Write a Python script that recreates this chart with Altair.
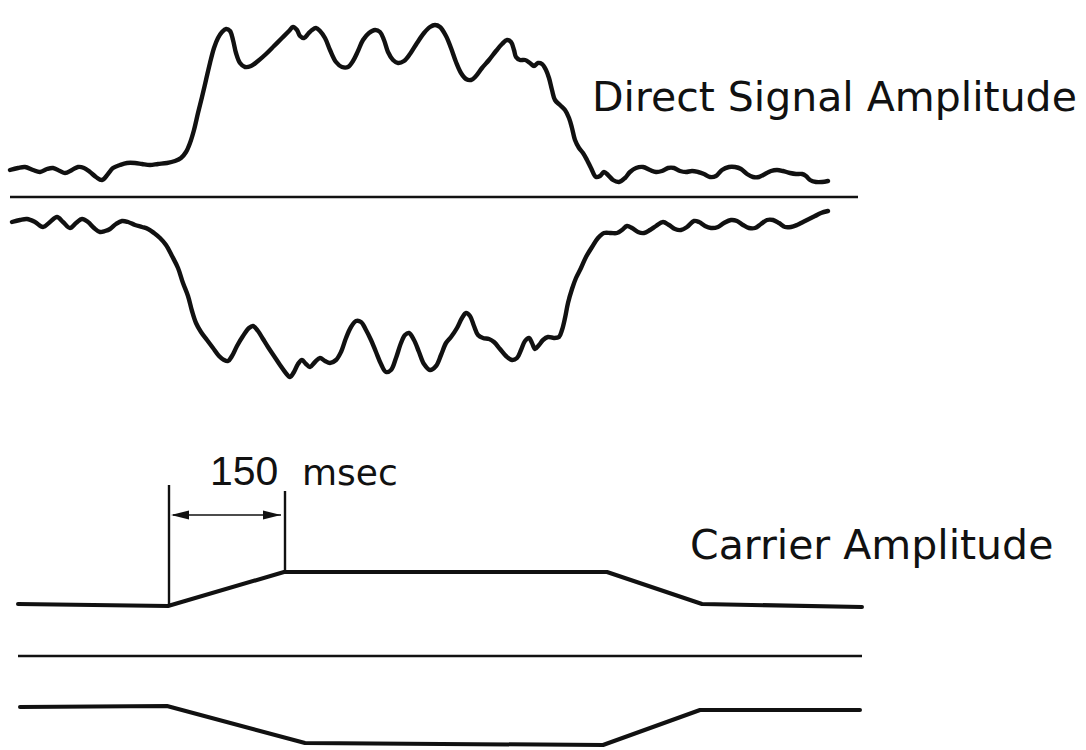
import altair as alt
import pandas as pd

# Drawing units: x is time along the trace, y is vertical position (0 at top).
# Direct signal envelope, upper half
direct_upper_x = [10, 18, 25, 33, 40, 47, 53, 60, 65, 72, 78, 84, 90, 96, 102, 108, 113, 120, 127, 135,
                  142, 150, 158, 167, 175, 181, 186, 190, 194, 198, 202, 206, 210, 214, 218, 222, 226, 230,
                  233, 236, 240, 245, 251, 258, 266, 274, 282, 289, 293, 297, 300, 304, 308, 312, 316, 320,
                  325, 330, 336, 342, 348, 353, 358, 363, 369, 375, 380, 384, 388, 393, 398, 404, 410, 417,
                  424, 430, 435, 440, 446, 451, 456, 461, 466, 471, 476, 482, 489, 496, 502, 507, 511, 514,
                  516, 520, 525, 530, 534, 538, 542, 546, 549, 552, 555, 560, 565, 569, 572, 575, 579, 583,
                  587, 591, 596, 600, 604, 608, 613, 619, 625, 630, 636, 643, 650, 656, 662, 668, 674, 680,
                  686, 692, 698, 704, 710, 716, 722, 729, 735, 741, 747, 753, 759, 765, 771, 777, 783, 790,
                  796, 802, 806, 810, 816, 822, 828]
direct_upper_y = [170, 168, 167, 170, 172, 169, 168, 171, 173, 170, 167, 168, 172, 177, 180, 174, 168, 165, 163, 163,
                  164, 165, 164, 163, 161, 158, 152, 143, 130, 113, 97, 80, 63, 48, 38, 32, 29, 31,
                  40, 53, 63, 67, 66, 61, 54, 46, 38, 31, 27, 30, 36, 38, 34, 30, 28, 31,
                  38, 50, 62, 67, 67, 61, 51, 40, 33, 30, 32, 40, 52, 60, 63, 61, 54, 43,
                  33, 27, 25, 27, 36, 48, 62, 73, 79, 80, 76, 68, 60, 51, 44, 40, 42, 50,
                  57, 60, 60, 63, 66, 63, 64, 70, 78, 90, 100, 105, 110, 118, 128, 140, 148, 153,
                  160, 168, 177, 176, 172, 175, 180, 182, 178, 172, 168, 167, 170, 172, 171, 168, 168, 171,
                  172, 171, 172, 174, 177, 176, 170, 167, 167, 169, 174, 177, 177, 174, 171, 170, 171, 173,
                  174, 174, 176, 180, 182, 182, 181]

# Direct signal envelope, lower half
direct_lower_x = [12, 20, 27, 35, 43, 50, 57, 63, 70, 76, 82, 88, 94, 100, 105, 110, 116, 122, 128, 135,
                  142, 148, 154, 160, 166, 172, 178, 183, 188, 192, 196, 201, 207, 213, 219, 224, 228, 232,
                  237, 243, 249, 253, 258, 263, 268, 274, 280, 285, 290, 294, 298, 302, 306, 310, 315, 320,
                  325, 330, 336, 341, 346, 351, 356, 361, 366, 371, 376, 381, 386, 391, 396, 401, 405, 409,
                  414, 419, 424, 430, 436, 441, 446, 451, 457, 462, 466, 470, 474, 478, 483, 489, 494, 500,
                  506, 512, 517, 521, 525, 529, 532, 535, 539, 543, 548, 554, 559, 562, 565, 568, 572, 576,
                  581, 586, 592, 598, 604, 611, 617, 622, 627, 632, 638, 644, 650, 656, 663, 669, 675, 681,
                  687, 694, 699, 705, 711, 718, 724, 731, 737, 743, 749, 755, 761, 767, 773, 779, 785, 791,
                  797, 803, 809, 815, 821, 828]
direct_lower_y = [222, 220, 219, 222, 227, 222, 217, 222, 228, 223, 219, 222, 228, 232, 231, 229, 224, 221, 222, 225,
                  227, 229, 233, 238, 245, 256, 268, 283, 296, 311, 323, 332, 340, 348, 356, 360, 361, 356,
                  346, 336, 328, 326, 331, 339, 347, 356, 365, 372, 377, 372, 364, 360, 364, 367, 362, 358,
                  361, 363, 360, 352, 338, 327, 321, 322, 330, 340, 352, 364, 372, 370, 358, 343, 335, 333,
                  340, 352, 364, 370, 366, 355, 343, 337, 328, 318, 313, 316, 326, 335, 338, 339, 342, 349,
                  356, 360, 358, 350, 341, 338, 343, 349, 345, 340, 337, 338, 337, 330, 318, 303, 289, 278,
                  268, 257, 247, 238, 233, 233, 233, 230, 226, 228, 232, 233, 230, 226, 222, 225, 229, 230,
                  227, 221, 222, 226, 228, 227, 223, 220, 221, 225, 228, 228, 224, 220, 220, 223, 227, 227,
                  225, 222, 219, 216, 213, 211]

# Carrier envelope, upper and lower halves
carrier_upper_x = [18, 168, 284, 607, 702, 862]
carrier_upper_y = [604, 606, 572, 572, 604, 607]
carrier_lower_x = [20, 167, 305, 603, 700, 860]
carrier_lower_y = [707, 706, 743, 745, 710, 710]

# Zero lines of the two displays: [x start, x end, y]
direct_zero = [10, 858, 197]
carrier_zero = [18, 862, 656]

# 150 msec ramp markers: times and top ends of the ticks
ramp_start, ramp_end = 169, 285
ramp_start_top, ramp_end_top = 485, 491
ramp_base_y = [605, 572]
arrow_y = 515
head_len = 18

labels_text = ["Direct Signal Amplitude", "Carrier Amplitude"]
labels_x = [592, 690]
labels_y = [111, 559]

W, H = 1086, 750
xs = alt.Scale(domain=[0, W], nice=False, zero=False)
ys = alt.Scale(domain=[0, H], nice=False, zero=False, reverse=True)
INK = "#111111"


def trace(xv, yv, width, interp="catmull-rom"):
    df = pd.DataFrame({"x": xv, "y": yv})
    return alt.Chart(df).mark_line(
        color=INK, strokeWidth=width, interpolate=interp, strokeCap="round", strokeJoin="round"
    ).encode(
        x=alt.X("x:Q", scale=xs, axis=None),
        y=alt.Y("y:Q", scale=ys, axis=None),
    )


def segments(rows, width):
    df = pd.DataFrame(rows, columns=["x", "x2", "y", "y2"])
    return alt.Chart(df).mark_rule(color=INK, strokeWidth=width).encode(
        x=alt.X("x:Q", scale=xs, axis=None),
        x2="x2:Q",
        y=alt.Y("y:Q", scale=ys, axis=None),
        y2="y2:Q",
    )


upper = trace(direct_upper_x, direct_upper_y, 4.4)
lower = trace(direct_lower_x, direct_lower_y, 4.4)
c_upper = trace(carrier_upper_x, carrier_upper_y, 4, interp="linear")
c_lower = trace(carrier_lower_x, carrier_lower_y, 4, interp="linear")

zero_lines = segments(
    [[direct_zero[0], direct_zero[1], direct_zero[2], direct_zero[2]],
     [carrier_zero[0], carrier_zero[1], carrier_zero[2], carrier_zero[2]]],
    2.4,
)

ticks = segments(
    [[ramp_start, ramp_start, ramp_start_top, ramp_base_y[0]],
     [ramp_end, ramp_end, ramp_end_top, ramp_base_y[1]]],
    2.4,
)

shaft = segments([[ramp_start + 4, ramp_end - 4, arrow_y, arrow_y]], 1.6)

heads_df = pd.DataFrame({
    "x": [ramp_start + 2 + head_len / 2, ramp_end - 4 - head_len / 2],
    "y": [arrow_y, arrow_y],
    "dir": ["left", "right"],
})
left_head = alt.Chart(heads_df[heads_df.dir == "left"]).mark_point(
    shape="M -1 0 L 1 -0.5 L 1 0.5 Z", filled=True, color=INK, opacity=1, size=head_len ** 2
).encode(x=alt.X("x:Q", scale=xs, axis=None), y=alt.Y("y:Q", scale=ys, axis=None))
right_head = alt.Chart(heads_df[heads_df.dir == "right"]).mark_point(
    shape="M 1 0 L -1 -0.5 L -1 0.5 Z", filled=True, color=INK, opacity=1, size=head_len ** 2
).encode(x=alt.X("x:Q", scale=xs, axis=None), y=alt.Y("y:Q", scale=ys, axis=None))

labels = alt.Chart(pd.DataFrame({"t": labels_text, "x": labels_x, "y": labels_y})).mark_text(
    align="left", baseline="alphabetic", font="DejaVu Sans", fontSize=41, color=INK
).encode(x=alt.X("x:Q", scale=xs, axis=None), y=alt.Y("y:Q", scale=ys, axis=None), text="t:N")

num_label = alt.Chart(pd.DataFrame({"t": ["150"], "x": [210], "y": [485]})).mark_text(
    align="left", baseline="alphabetic", font="Liberation Sans", fontSize=41, color=INK
).encode(x=alt.X("x:Q", scale=xs, axis=None), y=alt.Y("y:Q", scale=ys, axis=None), text="t:N")

unit_label = alt.Chart(pd.DataFrame({"t": ["msec"], "x": [302], "y": [485]})).mark_text(
    align="left", baseline="alphabetic", font="DejaVu Sans", fontSize=36, color=INK
).encode(x=alt.X("x:Q", scale=xs, axis=None), y=alt.Y("y:Q", scale=ys, axis=None), text="t:N")

chart = alt.layer(
    zero_lines, upper, lower, c_upper, c_lower, ticks, shaft, left_head, right_head,
    labels, num_label, unit_label,
).properties(
    width=W, height=H, autosize=alt.AutoSizeParams(type="none"), padding=0, background="white"
).configure_view(stroke=None)

chart.save("out.html", embed_options={"renderer": "svg", "actions": False})
